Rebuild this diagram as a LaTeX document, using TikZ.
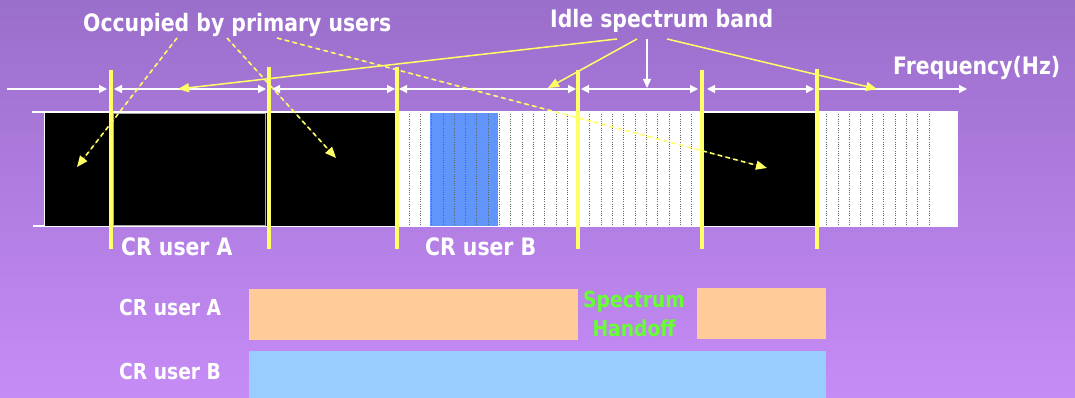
\documentclass[tikz,border=0pt]{standalone}
\usepackage{fontspec}
\newfontfamily\cf[FakeStretch=0.85]{DejaVu Sans}
\usetikzlibrary{arrows.meta}
\definecolor{bgtop}{RGB}{154,110,203}
\definecolor{bgbot}{RGB}{198,140,246}
\definecolor{ylw}{RGB}{255,255,102}
\definecolor{bandblue}{RGB}{96,150,252}
\definecolor{orng}{RGB}{255,204,153}
\definecolor{lblue}{RGB}{153,204,255}
\definecolor{grn}{RGB}{102,255,51}
\begin{document}
\begin{tikzpicture}[x=1pt,y=-1pt,
  lbl/.style={text=white,font=\cf\bfseries\fontsize{24}{28}\selectfont,inner sep=0pt,anchor=base west},
  slbl/.style={text=white,font=\cf\bfseries\fontsize{22}{26}\selectfont,inner sep=0pt,anchor=base west},
  glbl/.style={text=grn,font=\cf\bfseries\fontsize{22}{26}\selectfont,inner sep=0pt,anchor=base},
  axisseg/.style={draw=white,line width=1.3pt},
  ybar/.style={draw=ylw,line width=4pt},
  yarrow/.style={draw=ylw,line width=1.5pt,-{Triangle[length=11pt,width=9pt]},fill=ylw},
  ydash/.style={draw=ylw,line width=1.6pt,dash pattern=on 4.5pt off 3.5pt,-{Triangle[length=11pt,width=9pt]},fill=ylw},
  dotline/.style={draw=black!60,line width=0.8pt,dash pattern=on 1pt off 1.3pt}]
\useasboundingbox (0,0) rectangle (1075,398);
\shade[top color=bgtop,bottom color=bgbot] (0,0) rectangle (1075,398);

% band
\fill[white] (44,112) rectangle (958,226);
\draw[white,line width=1.5pt] (32,112) -- (958,112);
\draw[white,line width=1.5pt] (33,226) -- (958,226);
\fill[black] (45,113) rectangle (395,225.5);
\draw[gray!70,line width=1pt] (113.5,113.5) rectangle (265,225.5);
\fill[black] (703,113) rectangle (815,225.5);
\fill[bandblue] (430,113) rectangle (498,225.5);
\foreach \k in {0,...,25} {
  \draw[dotline] ({409+11.3*\k},114) -- ({409+11.3*\k},225);
}
\foreach \k in {0,...,9} {
  \draw[dotline] ({826.5+11.4*\k},114) -- ({826.5+11.4*\k},225);
}

% axis
\coordinate (a0) at (7,89);
\coordinate (a1) at (107,89);
\coordinate (b0) at (114,89);
\coordinate (b1) at (266,89);
\coordinate (c0) at (272,89);
\coordinate (c1) at (395,89);
\coordinate (d0) at (399,89);
\coordinate (d1) at (576,89);
\coordinate (e0) at (581,89);
\coordinate (e1) at (698,89);
\coordinate (f0) at (707,89);
\coordinate (f1) at (814,89);
\coordinate (g0) at (819,89);
\coordinate (g1) at (967,89);
\draw[axisseg,-{Triangle[length=8pt,width=8pt]},fill=white] (a0) -- (a1);
\draw[axisseg,{Triangle[length=8pt,width=8pt]}-{Triangle[length=8pt,width=8pt]},fill=white] (b0) -- (b1);
\draw[axisseg,{Triangle[length=8pt,width=8pt]}-{Triangle[length=8pt,width=8pt]},fill=white] (c0) -- (c1);
\draw[axisseg,{Triangle[length=8pt,width=8pt]}-{Triangle[length=8pt,width=8pt]},fill=white] (d0) -- (d1);
\draw[axisseg,{Triangle[length=8pt,width=8pt]}-{Triangle[length=8pt,width=8pt]},fill=white] (e0) -- (e1);
\draw[axisseg,{Triangle[length=8pt,width=8pt]}-{Triangle[length=8pt,width=8pt]},fill=white] (f0) -- (f1);
\draw[axisseg,-{Triangle[length=8pt,width=8pt]},fill=white] (g0) -- (g1);

% yellow bars
\foreach \n/\x/\t in {1/111/70,2/268.5/67,3/397/67,4/578/70,5/702/70,6/817/69} {
  \coordinate (yt\n) at (\x,\t);
  \coordinate (yb\n) at (\x,249);
  \draw[ybar] (yt\n) -- (yb\n);
}

% labels
\node[lbl] (occ) at (83,32) {Occupied by primary users};
\node[lbl] (idle) at (550,28) {Idle spectrum band};
\node[lbl] (freq) at (893,75) {Frequency(Hz)};
\node[lbl] (cra) at (121,255) {CR user A};
\node[lbl] (crb) at (425,255) {CR user B};

% idle arrows
\coordinate (i1) at (617,39);
\coordinate (i1e) at (178,89);
\coordinate (i2) at (637,39);
\coordinate (i2e) at (548,88);
\coordinate (i3) at (647,39);
\coordinate (i3e) at (647,88);
\coordinate (i4) at (667,39);
\coordinate (i4e) at (877,89);
\draw[yarrow] (i1) -- (i1e);
\draw[yarrow] (i2) -- (i2e);
\draw[white,line width=1.2pt,-{Triangle[length=9pt,width=8pt]},fill=white] (i3) -- (i3e);
\draw[yarrow] (i4) -- (i4e);

% occupied arrows
\coordinate (o1) at (177,38);
\coordinate (o1e) at (77,167);
\coordinate (o2) at (227,38);
\coordinate (o2e) at (336,158);
\coordinate (o3) at (277,38);
\coordinate (o3e) at (767,168);
\draw[ydash] (o1) -- (o1e);
\draw[ydash] (o2) -- (o2e);
\draw[ydash] (o3) -- (o3e);

% bottom timeline
\fill[orng] (249,289) rectangle (577.5,340);
\fill[orng] (697,288) rectangle (825.5,339);
\fill[lblue] (249,351) rectangle (825.5,398);
\node[slbl] (ba) at (119,315) {CR user A};
\node[slbl] (bb) at (119,379) {CR user B};
\node[glbl] (sp) at (634,307) {Spectrum};
\node[glbl] (ho) at (634,336) {Handoff};
\end{tikzpicture}
\end{document}
